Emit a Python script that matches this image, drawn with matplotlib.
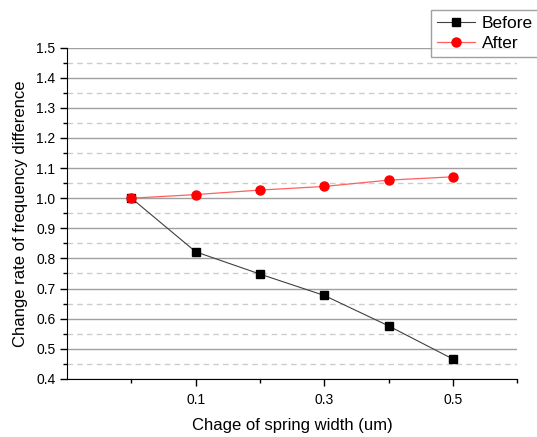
import matplotlib
matplotlib.use("Agg")
import matplotlib.pyplot as plt
from matplotlib.ticker import MultipleLocator, FixedLocator

plt.rcParams['font.family'] = ['Liberation Sans', 'DejaVu Sans']

# data
width_change = [0.0, 0.1, 0.2, 0.3, 0.4, 0.5]
before = [1.0, 0.822, 0.748, 0.677, 0.576, 0.466]
after = [1.0, 1.012, 1.027, 1.039, 1.060, 1.071]
x_labels = [0.1, 0.3, 0.5]

fig = plt.figure(figsize=(5.37, 4.37), dpi=100)
ax = fig.add_axes([0.125, 0.133, 0.838, 0.758])

ax.plot(width_change, before, color='#404040', lw=0.8, marker='s', ms=5.5,
        mfc='black', mec='black', label='Before', zorder=3)
ax.plot(width_change, after, color='#ff6060', lw=0.9, marker='o', ms=6.5,
        mfc='red', mec='red', label='After', zorder=3)

ax.set_xlim(-0.1, 0.6)
ax.set_ylim(0.4, 1.5)
ax.xaxis.set_major_locator(FixedLocator(x_labels))
ax.xaxis.set_minor_locator(FixedLocator([0.0, 0.2, 0.4, 0.6]))
ax.set_xticklabels([f'{v:.1f}' for v in x_labels])
ax.yaxis.set_major_locator(MultipleLocator(0.1))
ax.yaxis.set_minor_locator(MultipleLocator(0.05))
ax.yaxis.set_major_formatter(plt.FormatStrFormatter('%.1f'))

ax.grid(axis='y', which='major', color='#a0a0a0', lw=1.0)
ax.grid(axis='y', which='minor', color='#cccccc', lw=1.0, ls=(0, (4, 3)))
ax.set_axisbelow(True)

for s in ['top', 'right']:
    ax.spines[s].set_visible(False)
ax.tick_params(axis='both', which='major', direction='out', length=5, labelsize=10, width=1)
ax.tick_params(axis='both', which='minor', direction='out', length=3, width=1)
ax.tick_params(axis='x', which='major', pad=5)

ax.set_xlabel('Chage of spring width (um)', fontsize=12, labelpad=8)
ax.set_ylabel('Change rate of frequency difference', fontsize=12, labelpad=6)

leg = fig.legend(loc='upper left', bbox_to_anchor=(0.803, 0.977), fontsize=12.5,
                 frameon=True, fancybox=False, edgecolor='#888888', borderaxespad=0,
                 handlelength=2.2, borderpad=0.35, labelspacing=0.25, handletextpad=0.35)
leg.get_frame().set_linewidth(1.0)

fig.savefig('out.png', dpi=100)
